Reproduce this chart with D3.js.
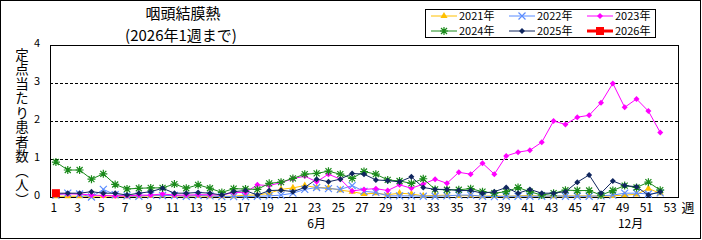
<!DOCTYPE html>
<html lang="ja">
  <head>
    <meta charset="UTF-8" />
    <title>咽頭結膜熱</title>
    <script src="https://d3js.org/d3.v7.min.js"></script>
    <style>
      body { margin: 0; background: #fff; }
      svg { display: block; font-family: "Noto Sans CJK JP", "DejaVu Sans", sans-serif; }
    </style>
  </head>
  <body>
    <script>
      // weekly values (定点当たり患者数), weeks 1..52
      const weeks = d3.range(1, 54);
      const tickWeeks = weeks.filter((w) => w % 2 === 1);
      const yTicks = [0, 1, 2, 3, 4];

      const v2021 = [0.02,0.02,0.02,0.02,0.03,0.02,0.02,0.02,0.03,0.04,0.03,0.02,0.03,0.02,0.02,0.02,
        0.05,0.05,0.1,0.2,0.24,0.3,0.25,0.24,0.18,0.14,0.08,0.1,0.06,0.1,0.08,0.03,0.04,0.05,0.03,0.04,
        0.02,0.03,0.02,0.03,0.04,0.02,0.02,0.03,0.03,0.03,0.02,0.03,0.05,0.07,0.22,0.1];
      const v2022 = [0.05,0.1,0.08,0.0,0.2,0.06,0.03,0.02,0.05,0.04,0.04,0.02,0.04,0.03,0.01,0.01,
        0.01,0.02,0.03,0.05,0.1,0.2,0.25,0.22,0.2,0.3,0.15,0.12,0.03,0.03,0.03,0.02,0.02,0.03,0.05,0.05,
        0.02,0.01,0.02,0.02,0.02,0.02,0.03,0.02,0.02,0.02,0.03,0.05,0.1,0.1,0.08,0.11];
      const v2023 = [0.08,0.08,0.08,0.05,0.04,0.03,0.03,0.05,0.05,0.08,0.05,0.05,0.06,0.06,0.05,0.12,
        0.12,0.32,0.3,0.38,0.48,0.55,0.4,0.6,0.47,0.16,0.2,0.22,0.17,0.32,0.23,0.34,0.47,0.36,0.65,0.6,
        0.89,0.6,1.08,1.18,1.23,1.44,2.0,1.91,2.1,2.15,2.48,2.99,2.36,2.58,2.26,1.7];
      const v2024 = [0.92,0.71,0.71,0.47,0.61,0.33,0.21,0.23,0.24,0.24,0.34,0.23,0.32,0.23,0.12,0.22,
        0.21,0.2,0.36,0.39,0.49,0.6,0.62,0.68,0.6,0.49,0.67,0.6,0.45,0.42,0.36,0.48,0.2,0.19,0.19,0.22,
        0.14,0.1,0.14,0.25,0.14,0.05,0.1,0.18,0.17,0.17,0.05,0.17,0.3,0.25,0.39,0.18];
      const v2025 = [0.1,0.1,0.1,0.14,0.1,0.1,0.05,0.1,0.14,0.23,0.1,0.1,0.12,0.1,0.05,0.14,
        0.17,0.05,0.17,0.18,0.14,0.25,0.47,0.4,0.47,0.62,0.6,0.45,0.43,0.4,0.53,0.25,0.2,0.2,0.17,0.17,
        0.1,0.14,0.25,0.1,0.2,0.1,0.1,0.14,0.39,0.58,0.1,0.42,0.3,0.27,0.05,0.14];
      const v2026 = [0.1];

      const seriesNames = ["2021年", "2022年", "2023年", "2024年", "2025年", "2026年"];
      const seriesValues = [v2021, v2022, v2023, v2024, v2025, v2026];
      const seriesColors = ["#FFC000", "#5B8CFF", "#FF00FF", "#1A8A1A", "#10265E", "#FF0000"];
      const seriesSymbols = ["tri", "x", "diamond", "star", "diamond", "square"];

      const width = 702, height = 240;
      const plotLeft = 50, plotRight = 678, plotTop = 45, plotBottom = 197;

      const svg = d3.select("body").append("svg")
        .attr("width", width).attr("height", height);

      // outer frame
      svg.append("rect")
        .attr("x", 0.5).attr("y", 0.5)
        .attr("width", 700).attr("height", 238)
        .attr("fill", "#fff").attr("stroke", "#000");

      const x = d3.scaleBand().domain(weeks).range([plotLeft, plotRight]).padding(0);
      const cx = (w) => x(w) + x.bandwidth() / 2;
      const y = d3.scaleLinear().domain([0, 4]).range([plotBottom, plotTop]);

      // title
      svg.append("text").attr("x", 183).attr("y", 19)
        .attr("text-anchor", "middle").attr("font-size", 15).text("咽頭結膜熱");
      svg.append("text").attr("x", 181).attr("y", 41)
        .attr("text-anchor", "middle").attr("font-size", 15).text("(2026年1週まで)");

      // plot frame
      svg.append("rect")
        .attr("x", plotLeft + 0.5).attr("y", plotTop + 0.5)
        .attr("width", plotRight - plotLeft).attr("height", plotBottom - plotTop)
        .attr("fill", "#fff").attr("stroke", "#000");

      // dashed grid
      svg.append("g").selectAll("line")
        .data(yTicks.filter((t) => t > 0 && t < 4))
        .join("line")
        .attr("x1", plotLeft).attr("x2", plotRight)
        .attr("y1", (d) => Math.round(y(d)) + 0.5).attr("y2", (d) => Math.round(y(d)) + 0.5)
        .attr("stroke", "#000").attr("stroke-dasharray", "3,2");

      // y tick labels
      svg.append("g").selectAll("text")
        .data(yTicks).join("text")
        .attr("x", 37).attr("y", (d) => y(d) + 2)
        .attr("text-anchor", "middle").attr("font-size", 11)
        .text((d) => d);

      // y title, vertical
      svg.append("text")
        .attr("x", 22).attr("y", 48)
        .style("writing-mode", "vertical-rl")
        .attr("font-size", 13.5).attr("letter-spacing", 1)
        .text("定点当たり患者数（人）");

      // x tick labels
      svg.append("g").selectAll("text")
        .data(tickWeeks).join("text")
        .attr("x", (d) => cx(d) - 2).attr("y", 212)
        .attr("text-anchor", "middle").attr("font-size", 12)
        .text((d) => d);
      svg.append("text").attr("x", 688).attr("y", 212)
        .attr("text-anchor", "middle").attr("font-size", 13).text("週");
      svg.append("text").attr("x", cx(23)).attr("y", 228)
        .attr("text-anchor", "middle").attr("font-size", 12).text("6月");
      svg.append("text").attr("x", (cx(49) + cx(50)) / 2).attr("y", 228)
        .attr("text-anchor", "middle").attr("font-size", 12).text("12月");

      function drawMarker(g, kind, color) {
        if (kind === "tri") {
          g.append("path").attr("d", d3.symbol(d3.symbolTriangle, 22)()).attr("fill", color);
        } else if (kind === "x") {
          g.append("path").attr("d", "M-3.5,-3.5L3.5,3.5M-3.5,3.5L3.5,-3.5")
            .attr("stroke", color).attr("stroke-width", 1.2).attr("fill", "none");
        } else if (kind === "diamond") {
          g.append("path").attr("d", "M0,-3L3,0L0,3L-3,0Z").attr("fill", color);
        } else if (kind === "star") {
          g.append("path").attr("d", "M-4,0L4,0M0,-4L0,4M-3,-3L3,3M-3,3L3,-3")
            .attr("stroke", color).attr("stroke-width", 1.2).attr("fill", "none");
        } else if (kind === "square") {
          g.append("rect").attr("x", -4).attr("y", -4).attr("width", 8).attr("height", 8)
            .attr("fill", color);
        }
      }

      const line = d3.line().x((d, i) => cx(i + 1)).y((d) => y(d));

      seriesValues.forEach((vals, si) => {
        const g = svg.append("g");
        g.append("path").datum(vals)
          .attr("d", line)
          .attr("fill", "none")
          .attr("stroke", seriesColors[si])
          .attr("stroke-width", 1);
        vals.forEach((v, i) => {
          const m = g.append("g").attr("transform", `translate(${cx(i + 1)},${y(v)})`);
          drawMarker(m, seriesSymbols[si], seriesColors[si]);
        });
      });

      // legend
      const legend = svg.append("g");
      legend.append("rect")
        .attr("x", 425.5).attr("y", 9.5).attr("width", 230).attr("height", 28)
        .attr("fill", "#fff").attr("stroke", "#000");
      const colX = [431, 509, 587];
      const rowY = [16, 31];
      seriesNames.forEach((name, i) => {
        const lx = colX[i % 3], ly = rowY[Math.floor(i / 3)];
        const item = legend.append("g");
        item.append("line")
          .attr("x1", lx).attr("x2", lx + 26).attr("y1", ly).attr("y2", ly)
          .attr("stroke", seriesColors[i]).attr("stroke-width", i === 5 ? 3 : 1);
        const m = item.append("g").attr("transform", `translate(${lx + 13},${ly})`);
        drawMarker(m, seriesSymbols[i], seriesColors[i]);
        item.append("text").attr("x", lx + 28).attr("y", ly + 4)
          .attr("font-size", 11).text(name);
      });
    </script>
  </body>
</html>
